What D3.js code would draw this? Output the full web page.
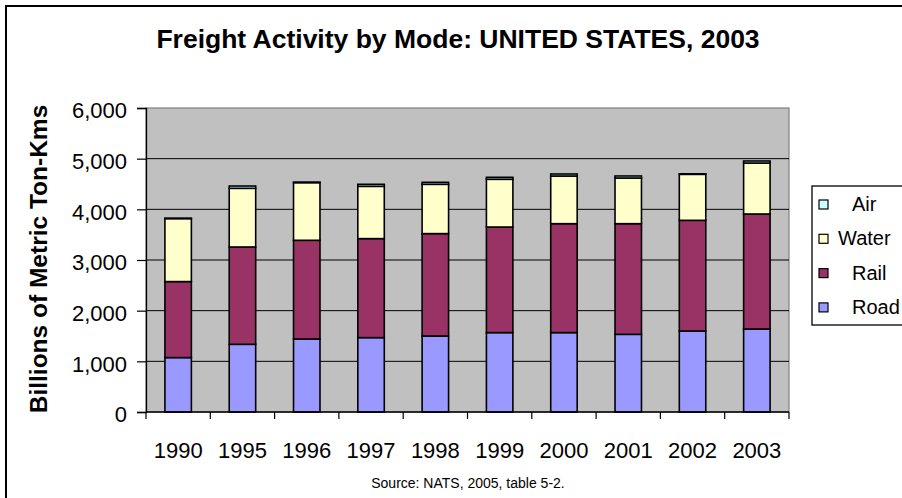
<!DOCTYPE html>
<html>
<head>
<meta charset="utf-8">
<script src="https://cdn.jsdelivr.net/npm/d3@7.9.0/dist/d3.min.js"></script>
<style>
  html, body { margin: 0; padding: 0; background: #fff; }
  svg { display: block; font-family: Arial, "Liberation Sans", sans-serif; }
</style>
</head>
<body>
<svg id="chart" width="902" height="498"></svg>
<script>
// values, billions of metric ton-km
const years = ["1990", "1995", "1996", "1997", "1998", "1999", "2000", "2001", "2002", "2003"];
const road  = [1074, 1336, 1441, 1468, 1500, 1567, 1567, 1533, 1599, 1638];
const rail  = [1500, 1921, 1948, 1954, 2021, 2084, 2150, 2184, 2184, 2270];
const water = [1243, 1158, 1138, 1032,  973,  942,  941,  901,  908, 1006];
const air   = [   8,   45,   10,   40,   39,   39,   39,   40,   10,   40];
const modes = ["Road", "Rail", "Water", "Air"];
const yTicks = [0, 1000, 2000, 3000, 4000, 5000, 6000];

const colors = { Road: "#9999FF", Rail: "#993366", Water: "#FFFFCC", Air: "#CCFFFF" };

const rows = years.map((y, i) => ({ year: y, Road: road[i], Rail: rail[i], Water: water[i], Air: air[i] }));
const stacked = d3.stack().keys(modes)(rows);

const svg = d3.select("#chart");

// outer chart frame (only top/left fall inside the picture)
svg.append("rect")
  .attr("x", 6).attr("y", 6).attr("width", 920).attr("height", 520)
  .attr("fill", "#fff").attr("stroke", "#000").attr("stroke-width", 2);

const plot = { left: 146, right: 789, top: 108, bottom: 412 };

const x = d3.scaleBand().domain(years).range([plot.left, plot.right]).padding(0);
const y = d3.scaleLinear().domain([0, 6000]).range([plot.bottom, plot.top]);
const barW = x.bandwidth() / 2.43;

// plot area
svg.append("rect")
  .attr("x", plot.left).attr("y", plot.top)
  .attr("width", plot.right - plot.left).attr("height", plot.bottom - plot.top)
  .attr("fill", "#C0C0C0").attr("stroke", "#808080").attr("stroke-width", 1.2);

// gridlines
svg.append("g")
  .selectAll("line")
  .data(yTicks.filter(d => d > 0 && d < 6000))
  .join("line")
  .attr("x1", plot.left).attr("x2", plot.right)
  .attr("y1", d => y(d)).attr("y2", d => y(d))
  .attr("stroke", "#000").attr("stroke-width", 1);

// bars
svg.append("g")
  .selectAll("g")
  .data(stacked)
  .join("g")
  .attr("fill", d => colors[d.key])
  .selectAll("rect")
  .data(d => d)
  .join("rect")
  .attr("x", d => x(d.data.year) + (x.bandwidth() - barW) / 2)
  .attr("width", barW)
  .attr("y", d => y(d[1]))
  .attr("height", d => y(d[0]) - y(d[1]))
  .attr("stroke", "#000").attr("stroke-width", 1.6);

// y axis
const yAxis = svg.append("g")
  .attr("transform", `translate(${plot.left},0)`)
  .call(d3.axisLeft(y).tickValues(yTicks).tickFormat(d3.format(",")).tickSize(9).tickPadding(10));
yAxis.select(".domain").attr("stroke", "#000").attr("stroke-width", 1.3);
yAxis.selectAll(".tick line").attr("stroke", "#000").attr("stroke-width", 1.2);
yAxis.selectAll("text")
  .attr("font-size", 22).attr("fill", "#000")
  .attr("font-family", "Arial, 'Liberation Sans', sans-serif")
  .attr("dy", "0.45em");

// x axis: labels centred, ticks between categories
const xAxis = svg.append("g")
  .attr("transform", `translate(0,${plot.bottom})`)
  .call(d3.axisBottom(x).tickSize(0).tickPadding(30));
xAxis.select(".domain").remove();
xAxis.selectAll("text")
  .attr("font-size", 22).attr("fill", "#000")
  .attr("font-family", "Arial, 'Liberation Sans', sans-serif");
svg.append("line")
  .attr("x1", plot.left).attr("x2", plot.right)
  .attr("y1", plot.bottom).attr("y2", plot.bottom)
  .attr("stroke", "#000").attr("stroke-width", 1.3);
svg.append("g")
  .selectAll("line")
  .data(years.concat(["end"]))
  .join("line")
  .attr("x1", d => d === "end" ? plot.right : x(d))
  .attr("x2", d => d === "end" ? plot.right : x(d))
  .attr("y1", plot.bottom).attr("y2", plot.bottom + 7)
  .attr("stroke", "#000").attr("stroke-width", 1.2);

// title
svg.append("text")
  .attr("x", 458).attr("y", 48)
  .attr("text-anchor", "middle")
  .attr("font-size", 26.5).attr("font-weight", "bold")
  .text("Freight Activity by Mode: UNITED STATES, 2003");

// y axis title
svg.append("text")
  .attr("transform", `translate(47,259) rotate(-90)`)
  .attr("text-anchor", "middle")
  .attr("font-size", 24.5).attr("font-weight", "bold")
  .text("Billions of Metric Ton-Kms");

// source note
svg.append("text")
  .attr("x", 468).attr("y", 488)
  .attr("text-anchor", "middle")
  .attr("font-size", 14)
  .text("Source: NATS, 2005, table 5-2.");

// legend
const legend = svg.append("g").attr("transform", "translate(812,186)");
legend.append("rect")
  .attr("x", 0).attr("y", 0).attr("width", 120).attr("height", 139)
  .attr("fill", "#fff").attr("stroke", "#000").attr("stroke-width", 1.3);
const legendOrder = modes.slice().reverse();
const item = legend.selectAll("g.item")
  .data(legendOrder)
  .join("g")
  .attr("class", "item")
  .attr("transform", (d, i) => `translate(0,${18 + i * 34.3})`);
item.append("rect")
  .attr("x", 7).attr("y", -4).attr("width", 9).attr("height", 9)
  .attr("fill", d => colors[d]).attr("stroke", "#000").attr("stroke-width", 1.2);
item.append("text")
  .attr("x", d => d === "Water" ? 26 : 40)
  .attr("y", 7)
  .attr("font-size", 20)
  .text(d => d);
</script>
</body>
</html>
